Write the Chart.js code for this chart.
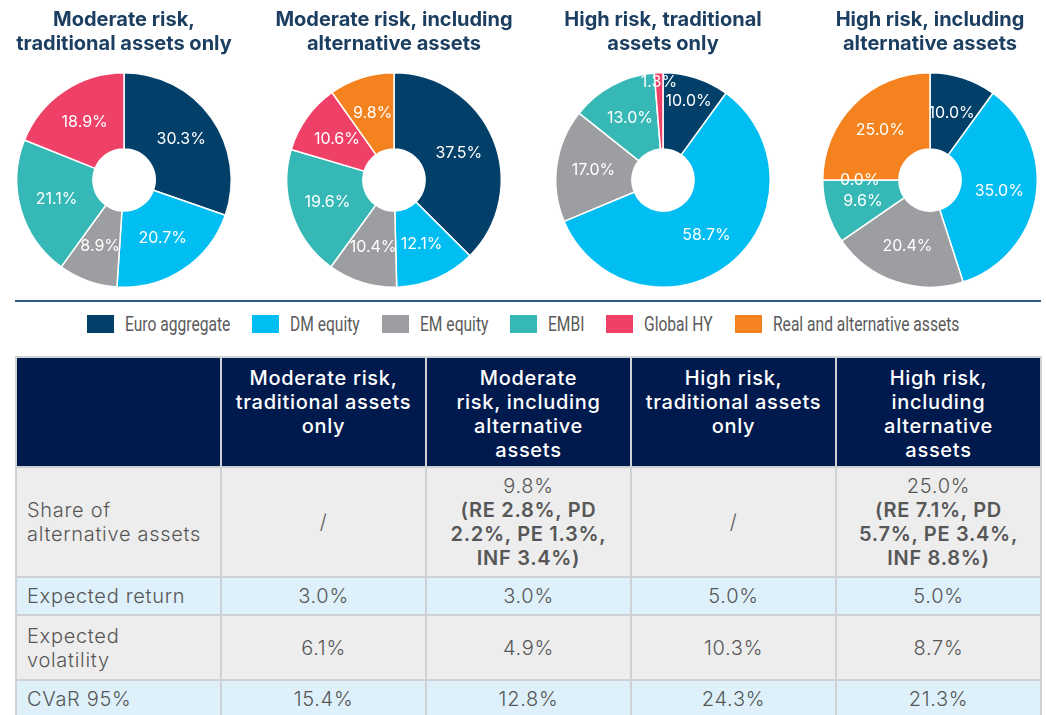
<!DOCTYPE html>
<html>
<head>
<meta charset="utf-8">
<script src="https://cdn.jsdelivr.net/npm/chart.js@4.4.0/dist/chart.umd.min.js"></script>
<style>
html,body{margin:0;padding:0;background:#fff;width:1046px;height:715px;overflow:hidden;font-family:Inter,"Open Sans",sans-serif;}
.chart{position:absolute;top:0;width:248px;height:288px;}
#sep{position:absolute;left:15px;top:300px;width:1026px;height:2px;background:#2c5b87;}
#legend{position:absolute;left:0;top:315px;width:1046px;height:18px;display:flex;justify-content:center;align-items:center;}
.li{display:flex;align-items:center;margin:0 11px;}
.sw{width:27px;height:18px;margin-right:11px;flex:none;}
.lt{display:inline-block;white-space:nowrap;}
.lt span{display:inline-block;font-family:Roboto,sans-serif;font-size:20px;color:#5a5a5a;white-space:nowrap;transform-origin:left center;}
#tbl{position:absolute;left:15px;top:356px;border-collapse:collapse;table-layout:fixed;width:1027px;}
#tbl td,#tbl th{border:2px solid #cfd2d5;padding:0 4px;text-align:center;font-size:20px;letter-spacing:0.7px;line-height:24px;color:#575757;font-weight:300;box-sizing:border-box;}
#tbl th{background:#001a4e;color:#fff;font-weight:500;vertical-align:top;padding-top:8px;}
#tbl td.lab{text-align:left;padding-left:10px;}
#tbl tr.g td{background:#ededed;}
#tbl tr.b td{background:#def1fb;}
#tbl b{font-weight:600;}
</style>
</head>
<body>
<canvas id="c0" class="chart" width="248" height="288" style="left:0px"></canvas>
<canvas id="c1" class="chart" width="248" height="288" style="left:270px"></canvas>
<canvas id="c2" class="chart" width="248" height="288" style="left:539px"></canvas>
<canvas id="c3" class="chart" width="248" height="288" style="left:806px"></canvas>
<div id="sep"></div>
<div id="legend"></div>
<table id="tbl"></table>
<script>
// ---- Data ----
const assetClasses = ['Euro aggregate','DM equity','EM equity','EMBI','Global HY','Real and alternative assets'];
const assetColors = ['#023f69','#00bdf2','#9c9ea1','#36b8b6','#ef4068','#f4831f'];

const chartTitles = [
  ['Moderate risk,','traditional assets only'],
  ['Moderate risk, including','alternative assets'],
  ['High risk, traditional','assets only'],
  ['High risk, including','alternative assets']
];
const moderateTraditional = [30.3, 20.7, 8.9, 21.1, 18.9];
const moderateAlternative = [37.5, 12.1, 10.4, 19.6, 10.6, 9.8];
const highTraditional     = [10.0, 58.7, 17.0, 13.0, 1.3];
const highAlternative     = [10.0, 35.0, 20.4, 9.6, 0.0, 25.0];

const tableHeaders = [
  [],
  ['Moderate risk,','traditional assets','only'],
  ['Moderate','risk, including','alternative','assets'],
  ['High risk,','traditional assets','only'],
  ['High risk,','including','alternative','assets']
];
const rowLabels = [['Share of','alternative assets'],['Expected return'],['Expected','volatility'],['CVaR 95%']];
const altShare = ['/', '9.8%', '/', '25.0%'];
const altBreakdown = [[], ['(RE 2.8%, PD','2.2%, PE 1.3%,','INF 3.4%)'], [], ['(RE 7.1%, PD','5.7%, PE 3.4%,','INF 8.8%)']];
const expectedReturn = ['3.0%','3.0%','5.0%','5.0%'];
const expectedVolatility = ['6.1%','4.9%','10.3%','8.7%'];
const cvar95 = ['15.4%','12.8%','24.3%','21.3%'];

// ---- Slice label plugin ----
const sliceLabelPlugin = {
  id: 'sliceLabels',
  afterDatasetsDraw(chart, args, opts) {
    const ctx = chart.ctx;
    const meta = chart.getDatasetMeta(0);
    const values = chart.data.datasets[0].data;
    ctx.save();
    ctx.fillStyle = '#ffffff';
    ctx.font = '400 16px Inter, "Open Sans", sans-serif';
    ctx.textAlign = 'center';
    ctx.textBaseline = 'middle';
    meta.data.forEach((arc, i) => {
      const p = arc.getProps(['x','y','startAngle','endAngle','innerRadius','outerRadius'], true);
      const mid = (p.startAngle + p.endAngle) / 2;
      const r = (opts.radii && opts.radii[i]) || (p.innerRadius + p.outerRadius) / 2 + 1;
      ctx.fillText(values[i].toFixed(1) + '%', p.x + Math.cos(mid) * r, p.y + Math.sin(mid) * r);
    });
    ctx.restore();
  }
};

function makeChart(id, values, title, radii) {
  return new Chart(document.getElementById(id), {
    type: 'doughnut',
    data: {
      labels: assetClasses.slice(0, values.length),
      datasets: [{
        data: values,
        backgroundColor: assetColors.slice(0, values.length),
        borderColor: '#ffffff',
        borderWidth: 1.5
      }]
    },
    options: {
      responsive: false,
      animation: false,
      cutout: '29%',
      layout: { padding: 0 },
      plugins: {
        legend: { display: false },
        tooltip: { enabled: false },
        title: {
          display: true,
          text: title,
          color: '#1c3f61',
          font: { family: 'Inter, "Open Sans", sans-serif', size: 20, weight: '700', lineHeight: 1.2 },
          padding: { top: 8, bottom: 16 }
        },
        sliceLabels: { radii: radii || {} }
      }
    },
    plugins: [sliceLabelPlugin]
  });
}

makeChart('c0', moderateTraditional, chartTitles[0]);
makeChart('c1', moderateAlternative, chartTitles[1]);
makeChart('c2', highTraditional, chartTitles[2], {0: 83, 4: 98});
makeChart('c3', highAlternative, chartTitles[3]);

// ---- Legend (condensed text) ----
const legend = document.getElementById('legend');
const condense = 0.78;
assetClasses.forEach((name, i) => {
  const item = document.createElement('div');
  item.className = 'li';
  item.innerHTML = '<div class="sw" style="background:' + assetColors[i] + '"></div><span class="lt"><span>' + name + '</span></span>';
  legend.appendChild(item);
});
legend.querySelectorAll('.lt').forEach(el => {
  const inner = el.firstChild;
  const w = inner.getBoundingClientRect().width;
  inner.style.transform = 'scaleX(' + condense + ')';
  el.style.width = (w * condense) + 'px';
});

// ---- Table ----
const tbl = document.getElementById('tbl');
let html = '<tr style="height:110px">' + tableHeaders.map(h => '<th>' + h.join('<br>') + '</th>').join('') + '</tr>';
html += '<tr class="g" style="height:110px"><td class="lab">' + rowLabels[0].join('<br>') + '</td>' +
  altShare.map((v, i) => '<td>' + v + (altBreakdown[i].length ? '<br><b>' + altBreakdown[i].join('<br>') + '</b>' : '') + '</td>').join('') + '</tr>';
html += '<tr class="b" style="height:38px"><td class="lab">' + rowLabels[1].join('<br>') + '</td>' + expectedReturn.map(v => '<td>' + v + '</td>').join('') + '</tr>';
html += '<tr class="g" style="height:65px"><td class="lab">' + rowLabels[2].join('<br>') + '</td>' + expectedVolatility.map(v => '<td>' + v + '</td>').join('') + '</tr>';
html += '<tr class="b" style="height:38px"><td class="lab">' + rowLabels[3].join('<br>') + '</td>' + cvar95.map(v => '<td>' + v + '</td>').join('') + '</tr>';
tbl.innerHTML = html;
</script>
</body>
</html>
